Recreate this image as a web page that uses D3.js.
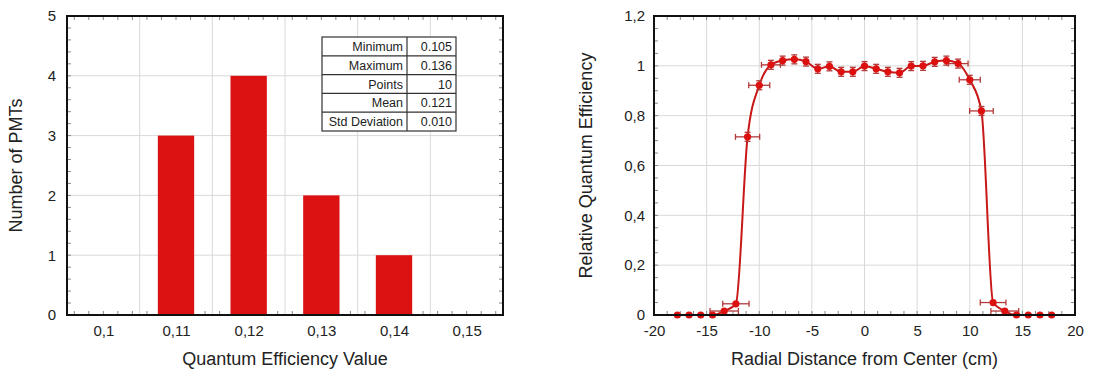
<!DOCTYPE html>
<html>
<head>
<meta charset="utf-8">
<script src="https://cdn.jsdelivr.net/npm/d3@7"></script>
<style>
  html, body { margin: 0; padding: 0; background: #fff; }
  svg { display: block; font-family: "Liberation Sans", Arial, sans-serif; }
</style>
</head>
<body>
<svg id="chart" width="1108" height="370"></svg>
<script>
// ---- Histogram: quantum efficiency of the PMTs ----
const qeBinCenters = [0.11, 0.12, 0.13, 0.14];
const qeCounts = [3, 4, 2, 1];
const qeTicks = [0.10, 0.11, 0.12, 0.13, 0.14, 0.15];
const qeGrid = [0.105, 0.115, 0.125, 0.135, 0.145];
const countTicks = [0, 1, 2, 3, 4, 5];
const statLabels = ["Minimum", "Maximum", "Points", "Mean", "Std Deviation"];
const statValues = ["0.105", "0.136", "10", "0.121", "0.010"];

// ---- Radial scan: relative quantum efficiency across the photocathode ----
const radialX = [-17.78, -16.67, -15.56, -14.44, -13.33, -12.22, -11.11, -10.00, -8.89,
  -7.78, -6.67, -5.56, -4.44, -3.33, -2.22, -1.11, 0.00, 1.11, 2.22, 3.33, 4.44, 5.56,
  6.67, 7.78, 8.89, 10.00, 11.11, 12.22, 13.33, 14.44, 15.56, 16.67, 17.78];
const radialQE = [0, 0, 0, 0, 0.016, 0.045, 0.715, 0.922, 1.004,
  1.021, 1.026, 1.017, 0.988, 0.998, 0.976, 0.976, 0.999, 0.988, 0.976, 0.972, 0.999, 1.000,
  1.016, 1.021, 1.009, 0.944, 0.819, 0.050, 0.016, 0, 0, 0, 0];
const radialXErr = [0, 0, 0, 0, 1.35, 1.25, 1.15, 1.0, 0.9,
  0, 0, 0, 0, 0, 0, 0, 0, 0, 0, 0, 0, 0,
  0, 0, 0.95, 1.0, 1.12, 1.22, 1.32, 0, 0, 0, 0];
const radialYErr = [0, 0, 0, 0, 0, 0, 0.018, 0.018, 0.018,
  0.018, 0.018, 0.018, 0.018, 0.018, 0.018, 0.018, 0.018, 0.018, 0.018, 0.018, 0.018, 0.018,
  0.018, 0.018, 0.018, 0.018, 0.018, 0, 0, 0, 0, 0, 0];
const radialTicks = [-20, -15, -10, -5, 0, 5, 10, 15, 20];
const relTicks = [0, 0.2, 0.4, 0.6, 0.8, 1.0, 1.2];

const svg = d3.select("#chart");
const commaFmt = v => String(+v.toFixed(3)).replace(".", ",");
const plainIntFmt = v => String(Math.round(v));   // ASCII hyphen for negatives
const gridColor = "#d9d9d9";
const tickFont = 15, titleFont = 18;

// Draws the grid and the inward minor ticks shared by both panels
function drawFrame(g, x, y, opts) {
  const [x0, x1] = x.range();
  const [y1, y0] = y.range();
  g.append("g").selectAll("line").data(opts.xGrid).join("line")
    .attr("x1", d => x(d)).attr("x2", d => x(d)).attr("y1", y0).attr("y2", y1)
    .attr("stroke", gridColor).attr("stroke-width", 1);
  g.append("g").selectAll("line").data(opts.yGrid).join("line")
    .attr("y1", d => y(d)).attr("y2", d => y(d)).attr("x1", x0).attr("x2", x1)
    .attr("stroke", gridColor).attr("stroke-width", 1);
  const ticks = g.append("g").attr("stroke", "#888").attr("stroke-width", 1);
  ticks.selectAll(".mxb").data(opts.xMinor).join("line")
    .attr("x1", d => x(d)).attr("x2", d => x(d)).attr("y1", y1).attr("y2", y1 - 4);
  ticks.selectAll(".mxt").data(opts.xMinor).join("line")
    .attr("x1", d => x(d)).attr("x2", d => x(d)).attr("y1", y0).attr("y2", y0 + 4);
  ticks.selectAll(".myl").data(opts.yMinor).join("line")
    .attr("y1", d => y(d)).attr("y2", d => y(d)).attr("x1", x0).attr("x2", x0 + 4);
  ticks.selectAll(".myr").data(opts.yMinor).join("line")
    .attr("y1", d => y(d)).attr("y2", d => y(d)).attr("x1", x1).attr("x2", x1 - 4);
}

function drawAxesAndBorder(g, x, y, opts) {
  const [x0, x1] = x.range();
  const [y1, y0] = y.range();
  g.append("rect").attr("x", x0).attr("y", y0).attr("width", x1 - x0).attr("height", y1 - y0)
    .attr("fill", "none").attr("stroke", "#111").attr("stroke-width", 2);

  const xAxis = d3.axisBottom(x).tickValues(opts.xTicks).tickSize(0).tickPadding(10)
    .tickFormat(opts.xFormat);
  g.append("g").attr("transform", `translate(0,${y1})`).call(xAxis)
    .call(a => a.select(".domain").remove())
    .call(a => a.selectAll("text").attr("font-size", tickFont).attr("fill", "#222")
      .attr("font-family", "Liberation Sans, Arial, sans-serif"));

  const yAxis = d3.axisLeft(y).tickValues(opts.yTicks).tickSize(0).tickPadding(opts.yPad)
    .tickFormat(opts.yFormat);
  g.append("g").attr("transform", `translate(${x0},0)`).call(yAxis)
    .call(a => a.select(".domain").remove())
    .call(a => a.selectAll("text").attr("font-size", tickFont).attr("fill", "#222")
      .attr("font-family", "Liberation Sans, Arial, sans-serif"));

  g.append("text").attr("x", (x0 + x1) / 2).attr("y", 365).attr("text-anchor", "middle")
    .attr("font-size", titleFont).attr("fill", "#222").text(opts.xTitle);
  g.append("text").attr("transform", `translate(${opts.yTitleX},${(y0 + y1) / 2}) rotate(-90)`)
    .attr("text-anchor", "middle").attr("font-size", titleFont).attr("fill", "#222").text(opts.yTitle);
}

// ---------------- Left panel: histogram ----------------
{
  const g = svg.append("g");
  const x = d3.scaleLinear().domain([0.095, 0.155]).range([67, 503]);
  const y = d3.scaleLinear().domain([0, 5]).range([315, 16]);

  drawFrame(g, x, y, {
    xGrid: qeGrid,
    yGrid: [1, 2, 3, 4],
    xMinor: d3.range(0.096, 0.1549, 0.002),
    yMinor: d3.range(0.2, 4.99, 0.2)
  });

  const binWidth = 0.005;
  g.append("g").selectAll("rect").data(qeBinCenters).join("rect")
    .attr("x", (d) => x(d - binWidth / 2))
    .attr("width", d => x(d + binWidth / 2) - x(d - binWidth / 2))
    .attr("y", (d, i) => y(qeCounts[i]))
    .attr("height", (d, i) => y(0) - y(qeCounts[i]))
    .attr("fill", "#dc1212");

  drawAxesAndBorder(g, x, y, {
    xTicks: qeTicks, xFormat: commaFmt,
    yTicks: countTicks, yFormat: d3.format("d"), yPad: 11,
    xTitle: "Quantum Efficiency Value", yTitle: "Number of PMTs", yTitleX: 22
  });

  // statistics table
  const tx = 322, tw1 = 85, tw2 = 49, rowH = 18.8, ty = 37;
  const table = g.append("g").attr("font-size", 12.5).attr("fill", "#222");
  table.append("rect").attr("x", tx).attr("y", ty).attr("width", tw1 + tw2)
    .attr("height", rowH * statLabels.length).attr("fill", "#fff")
    .attr("stroke", "#333").attr("stroke-width", 1.2);
  table.append("line").attr("x1", tx + tw1).attr("x2", tx + tw1).attr("y1", ty)
    .attr("y2", ty + rowH * statLabels.length).attr("stroke", "#333").attr("stroke-width", 1.2);
  table.selectAll(".sep").data(d3.range(1, statLabels.length)).join("line")
    .attr("x1", tx).attr("x2", tx + tw1 + tw2)
    .attr("y1", d => ty + d * rowH).attr("y2", d => ty + d * rowH)
    .attr("stroke", "#333").attr("stroke-width", 1.2);
  table.selectAll(".lab").data(statLabels).join("text")
    .attr("x", tx + tw1 - 4).attr("y", (d, i) => ty + i * rowH + rowH / 2 + 4.5)
    .attr("text-anchor", "end").text(d => d);
  table.selectAll(".val").data(statValues).join("text")
    .attr("x", tx + tw1 + tw2 - 4).attr("y", (d, i) => ty + i * rowH + rowH / 2 + 4.5)
    .attr("text-anchor", "end").text(d => d);
}

// ---------------- Right panel: radial scan ----------------
{
  const g = svg.append("g");
  const x = d3.scaleLinear().domain([-20, 20]).range([654, 1075]);
  const y = d3.scaleLinear().domain([0, 1.2]).range([315, 16]);

  drawFrame(g, x, y, {
    xGrid: [-15, -10, -5, 0, 5, 10, 15],
    yGrid: [0.2, 0.4, 0.6, 0.8, 1.0],
    xMinor: d3.range(-18.75, 19.9, 1.25),
    yMinor: d3.range(0.05, 1.199, 0.05)
  });

  const pts = radialX.map((v, i) => ({ x: v, y: radialQE[i], ex: radialXErr[i], ey: radialYErr[i] }));

  // fitted curve through the measurements
  const line = d3.line().x(d => x(d.x)).y(d => y(d.y)).curve(d3.curveMonotoneX);
  g.append("path").datum(pts).attr("d", line)
    .attr("fill", "none").attr("stroke", "#c81818").attr("stroke-width", 2);

  // error bars
  const eb = g.append("g").attr("stroke", "#b23a3a").attr("stroke-width", 1.3);
  const withX = pts.filter(d => d.ex > 0);
  eb.selectAll(".hx").data(withX).join("line")
    .attr("x1", d => x(d.x - d.ex)).attr("x2", d => x(d.x + d.ex))
    .attr("y1", d => y(d.y)).attr("y2", d => y(d.y));
  eb.selectAll(".hcl").data(withX).join("line")
    .attr("x1", d => x(d.x - d.ex)).attr("x2", d => x(d.x - d.ex))
    .attr("y1", d => y(d.y) - 3).attr("y2", d => y(d.y) + 3);
  eb.selectAll(".hcr").data(withX).join("line")
    .attr("x1", d => x(d.x + d.ex)).attr("x2", d => x(d.x + d.ex))
    .attr("y1", d => y(d.y) - 3).attr("y2", d => y(d.y) + 3);
  const withY = pts.filter(d => d.ey > 0);
  eb.selectAll(".vy").data(withY).join("line")
    .attr("x1", d => x(d.x)).attr("x2", d => x(d.x))
    .attr("y1", d => y(d.y - d.ey)).attr("y2", d => y(d.y + d.ey));
  eb.selectAll(".vct").data(withY).join("line")
    .attr("x1", d => x(d.x) - 3).attr("x2", d => x(d.x) + 3)
    .attr("y1", d => y(d.y + d.ey)).attr("y2", d => y(d.y + d.ey));
  eb.selectAll(".vcb").data(withY).join("line")
    .attr("x1", d => x(d.x) - 3).attr("x2", d => x(d.x) + 3)
    .attr("y1", d => y(d.y - d.ey)).attr("y2", d => y(d.y - d.ey));

  g.append("g").selectAll("circle").data(pts).join("circle")
    .attr("cx", d => x(d.x)).attr("cy", d => y(d.y)).attr("r", 3.6)
    .attr("fill", "#dd1010");

  drawAxesAndBorder(g, x, y, {
    xTicks: radialTicks, xFormat: plainIntFmt,
    yTicks: relTicks, yFormat: commaFmt, yPad: 9,
    xTitle: "Radial Distance from Center (cm)", yTitle: "Relative Quantum Efficiency", yTitleX: 592
  });
}
</script>
</body>
</html>
